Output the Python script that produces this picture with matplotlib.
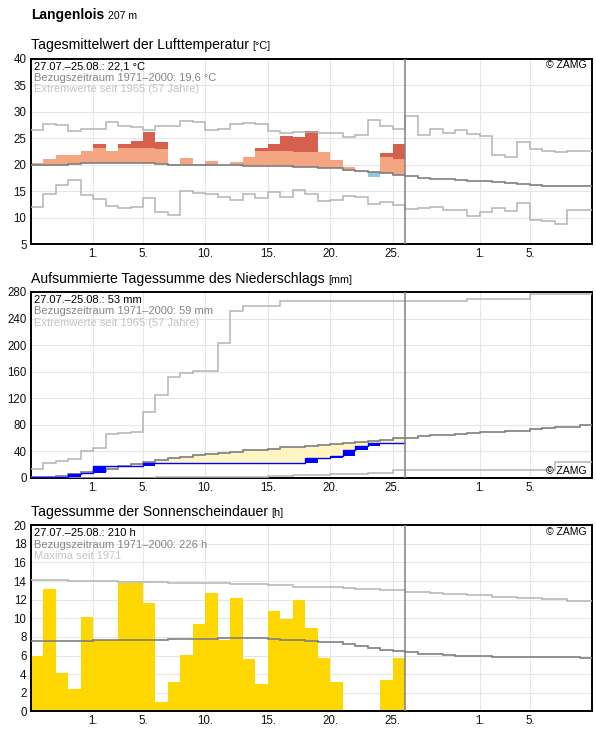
import numpy as np
import matplotlib
matplotlib.use("Agg")
import matplotlib.pyplot as plt

plt.rcParams["font.family"] = ["Liberation Sans", "DejaVu Sans"]

# ------------------------------------------------------------
# data: day 0 = 27.07., 30 observed days, view runs to 09.09.
# ------------------------------------------------------------
tick_pos = [5, 9, 14, 19, 24, 29, 36, 40]
tick_labels = ["1.", "5.", "10.", "15.", "20.", "25.", "1.", "5."]

# air temperature (daily mean, °C)
temp_obs = [20.4, 21.15, 21.8, 21.8, 22.6, 24.0, 22.6, 23.85, 24.4, 26.1,
            24.2, 20.2, 21.3, 20.2, 20.7, 20.0, 20.6, 21.5, 23.1, 23.85,
            25.4, 25.2, 26.4, 22.5, 20.9, 19.6, 18.6, 17.6, 22.2, 24.0]
temp_norm = [19.9, 19.9, 19.9, 20.1, 20.3, 20.3, 20.3, 20.3, 20.3, 20.3,
             20.1, 19.95, 19.95, 19.95, 19.95, 19.95, 19.9, 19.75, 19.75, 19.75,
             19.75, 19.6, 19.6, 19.45, 19.3, 19.1, 18.85, 18.6, 18.5, 18.1,
             17.8, 17.56, 17.4, 17.3, 17.2, 17.0, 16.9, 16.7, 16.56, 16.45,
             16.25, 16.06, 16.0, 15.9, 15.9]
temp_max = [26.5, 27.6, 27.5, 26.4, 26.8, 26.8, 28.0, 27.4, 27.1, 26.6,
            27.25, 27.25, 28.3, 28.0, 26.6, 26.8, 27.6, 27.9, 27.6, 26.4,
            26.0, 26.1, 26.2, 26.0, 26.0, 25.2, 25.55, 28.4, 27.3, 26.8,
            29.2, 25.7, 26.7, 26.0, 26.5, 25.8, 25.4, 21.9, 21.5, 24.3,
            23.0, 22.6, 22.4, 22.6, 22.6]
temp_min = [12.1, 14.5, 16.2, 17.1, 14.3, 13.6, 12.3, 11.9, 12.1, 13.75,
            11.1, 10.6, 15.0, 14.7, 14.5, 13.9, 13.4, 14.5, 13.8, 14.9,
            14.0, 15.2, 14.5, 13.2, 13.4, 14.2, 14.0, 12.6, 12.9, 12.5,
            11.75, 11.9, 12.1, 11.4, 11.56, 10.4, 11.0, 11.9, 11.25, 12.7,
            9.6, 9.3, 8.9, 11.56, 11.56]
WARM_BAND = 2.9   # light orange up to normal + this, dark red above

# precipitation (daily sums, cumulative references in mm)
precip_daily = [1.5, 0.0, 0.5, 4.5, 1.0, 10.5, 0.0, 0.0, 0.5, 4.5,
                0.0, 0.0, 0.0, 0.0, 0.0, 0.0, 0.0, 0.0, 0.0, 0.0,
                0.0, 0.0, 7.5, 0.0, 3.0, 8.0, 6.0, 5.7, 0.0, 0.0]
precip_norm = [1.0, 2.0, 3.5, 6.5, 9.0, 11.0, 14.0, 18.0, 20.6, 23.6,
               27.0, 29.6, 31.0, 34.0, 36.0, 37.6, 38.6, 41.6, 41.6, 43.7,
               46.0, 46.0, 48.0, 50.0, 51.0, 52.0, 54.0, 56.0, 57.7, 59.7,
               59.7, 63.2, 64.7, 64.7, 65.7, 67.2, 68.7, 68.7, 71.2, 71.2,
               73.8, 74.8, 76.8, 76.8, 79.3]
precip_max = [14, 23, 26, 29, 41, 44.7, 65.7, 67.7, 69.2, 98.8,
              125, 151.5, 158.5, 160.6, 160.6, 203.7, 252, 259, 259, 259,
              267, 267, 267, 267, 267, 267, 267, 267, 267, 267,
              267, 267, 267, 267, 267, 270, 270, 270, 270, 270,
              276.5, 276.5, 276.5, 276.5, 276.5]
precip_min = [0, 0, 0, 0, 0, 0, 0, 0, 0, 0,
              1, 1, 1, 1, 1, 1, 2, 2, 2, 3.5,
              3.5, 5, 5, 5, 6, 6, 6, 7, 7, 11.5,
              11.5, 11.5, 11.5, 11.5, 11.5, 11.5, 11.5, 11.5, 11.5, 11.5,
              11.5, 11.5, 24.6, 24.6, 24.6]

# sunshine duration (h)
sun_obs = [5.9, 13.15, 4.1, 2.4, 10.1, 7.7, 7.7, 13.8, 13.8, 11.65,
           1.0, 3.15, 6.06, 9.4, 12.7, 7.7, 12.2, 5.6, 2.9, 10.8,
           9.9, 12.0, 8.96, 5.7, 3.15, 0.0, 0.0, 0.0, 3.37, 5.7]
sun_norm = [7.53, 7.53, 7.53, 7.53, 7.53, 7.63, 7.63, 7.63, 7.63, 7.63,
            7.63, 7.78, 7.78, 7.78, 7.78, 7.92, 7.92, 7.92, 7.92, 7.78,
            7.67, 7.67, 7.6, 7.5, 7.4, 7.24, 7.0, 6.85, 6.63, 6.5,
            6.38, 6.2, 6.13, 6.06, 6.0, 5.95, 5.9, 5.84, 5.84, 5.84,
            5.84, 5.84, 5.84, 5.84, 5.73]
sun_max = [14.1, 14.1, 14.1, 14.0, 14.0, 14.0, 14.0, 13.9, 13.9, 13.9,
           13.9, 13.8, 13.8, 13.8, 13.8, 13.8, 13.7, 13.7, 13.7, 13.55,
           13.55, 13.37, 13.37, 13.37, 13.37, 13.3, 13.1, 13.1, 13.0, 13.0,
           12.87, 12.87, 12.72, 12.58, 12.58, 12.47, 12.47, 12.33, 12.33, 12.19,
           12.19, 12.08, 12.08, 11.9, 11.9]

# ------------------------------------------------------------
# figure layout (pixel based, 596 x 729)
# ------------------------------------------------------------
W, H = 596, 729
fig = plt.figure(figsize=(W / 100, H / 100), dpi=100)


def px_axes(left, top, right, bottom):
    return [left / W, 1 - bottom / H, (right - left) / W, (bottom - top) / H]


ax_t = fig.add_axes(px_axes(30.7, 58.7, 592.3, 244.3))
ax_p = fig.add_axes(px_axes(30.7, 292, 592.3, 478))
ax_s = fig.add_axes(px_axes(30.7, 525.3, 592.3, 711.3))

NORM_C = "#7f7f7f"
EXT_C = "#b4b4b4"
n_obs = len(temp_obs)
days = np.arange(n_obs)
edges_all = np.arange(len(temp_norm) + 1)
edges_obs = np.arange(n_obs + 1)


def style_axis(ax, ymin, ymax, ystep):
    ax.set_xlim(0, 45)
    ax.set_ylim(ymin, ymax)
    ax.set_yticks(np.arange(ymin, ymax + ystep / 2, ystep))
    ax.set_xticks(tick_pos)
    ax.set_xticklabels(tick_labels)
    ax.grid(True, color="#e6e6e6", lw=0.8)
    ax.set_axisbelow(True)
    ax.tick_params(length=0, labelsize=8.3, pad=3, colors="#111111")
    for s in ax.spines.values():
        s.set_linewidth(1.4)
    ax.axvline(n_obs, color="#808080", lw=1.1, zorder=6)


def info_text(ax, lines, top_right_zamg=True):
    colors = ["black", "#858585", "#c4c4c4"]
    offsets = [-8, -19.5, -30.7]
    for s, c, o in zip(lines, colors, offsets):
        ax.annotate(s, xy=(0, 1), xycoords="axes fraction", xytext=(3.5, o),
                    textcoords="offset pixels", va="center", ha="left",
                    fontsize=8, color=c, zorder=7)
    if top_right_zamg:
        ax.annotate("© ZAMG", xy=(1, 1), xycoords="axes fraction", xytext=(-5.5, -6.5),
                    textcoords="offset pixels", va="center", ha="right", fontsize=7.5, zorder=7)
    else:
        ax.annotate("© ZAMG", xy=(1, 0), xycoords="axes fraction", xytext=(-5.5, 6.5),
                    textcoords="offset pixels", va="center", ha="right", fontsize=7.5, zorder=7)


renderer = fig.canvas.get_renderer()


def title_with_unit(x_px, base_px, text, unit, size, unit_size, weight="normal"):
    t = fig.text(x_px / W, 1 - base_px / H, text, fontsize=size, fontweight=weight, va="baseline")
    ext = t.get_window_extent(renderer=renderer)
    fig.text((ext.x1 + 4) / W, 1 - base_px / H, unit, fontsize=unit_size, va="baseline")


title_with_unit(30.7, 19.3, "Langenlois", "207 m", 10.0, 7.6, weight="bold")
title_with_unit(30.7, 49.3, "Tagesmittelwert der Lufttemperatur", "[°C]", 10.1, 7.8)
title_with_unit(30.7, 282.6, "Aufsummierte Tagessumme des Niederschlags", "[mm]", 10.1, 7.8)
title_with_unit(30.7, 516.0, "Tagessumme der Sonnenscheindauer", "[h]", 10.1, 7.8)

# ------------------------------------------------------------
# panel 1: temperature
# ------------------------------------------------------------
style_axis(ax_t, 5, 40, 5)
obs = np.array(temp_obs)
norm = np.array(temp_norm[:n_obs])
tmax = np.array(temp_max[:n_obs])
thr = norm + WARM_BAND

light_top = np.where(obs > norm, np.minimum(obs, thr), norm)
ax_t.bar(days, light_top - norm, bottom=norm, width=1, align="edge", color="#f4a582", lw=0)
dark_h = np.clip(np.minimum(obs, np.maximum(tmax, thr)) - thr, 0, None)
ax_t.bar(days, dark_h, bottom=thr, width=1, align="edge", color="#d6604d", lw=0)
rec_bottom = np.maximum(tmax, thr)
rec_h = np.clip(obs - rec_bottom, 0, None)
ax_t.bar(days, rec_h, bottom=rec_bottom, width=1, align="edge", color="#a3121f", lw=0)
cold_h = np.clip(norm - obs, 0, None)
ax_t.bar(days, cold_h, bottom=obs, width=1, align="edge", color="#92c5de", lw=0)

ax_t.stairs(temp_max, edges_all, color=EXT_C, lw=1.1, baseline=None, zorder=3)
ax_t.stairs(temp_min, edges_all, color=EXT_C, lw=1.1, baseline=None, zorder=3)
ax_t.stairs(temp_norm, edges_all, color=NORM_C, lw=1.2, baseline=None, zorder=4)
info_text(ax_t, ["27.07.–25.08.: 22,1 °C", "Bezugszeitraum 1971–2000: 19,6 °C",
                 "Extremwerte seit 1965 (57 Jahre)"])

# ------------------------------------------------------------
# panel 2: precipitation (cumulative)
# ------------------------------------------------------------
style_axis(ax_p, 0, 280, 40)
daily = np.array(precip_daily)
cum = np.cumsum(daily)
pnorm = np.array(precip_norm[:n_obs])

deficit = np.clip(pnorm - cum, 0, None)
ax_p.bar(days, deficit, bottom=cum, width=1, align="edge", color="#fff5c2", lw=0)
surplus = np.clip(cum - pnorm, 0, None)
ax_p.bar(days, surplus, bottom=pnorm, width=1, align="edge", color="#e3f3dc", lw=0)

ax_p.stairs(precip_max, edges_all, color=EXT_C, lw=1.1, baseline=None, zorder=3)
ax_p.stairs(precip_min, edges_all, color=EXT_C, lw=1.1, baseline=None, zorder=3)
ax_p.stairs(precip_norm, edges_all, color=NORM_C, lw=1.2, baseline=None, zorder=4)
ax_p.bar(days, daily, bottom=cum - daily, width=1, align="edge", color="#0000ff", lw=0, zorder=4)
ax_p.stairs(cum, edges_obs, color="#0000ff", lw=1.0, baseline=None, zorder=5)
info_text(ax_p, ["27.07.–25.08.: 53 mm", "Bezugszeitraum 1971–2000: 59 mm",
                 "Extremwerte seit 1965 (57 Jahre)"], top_right_zamg=False)

# ------------------------------------------------------------
# panel 3: sunshine duration
# ------------------------------------------------------------
style_axis(ax_s, 0, 20, 2)
ax_s.bar(days, sun_obs, width=1, align="edge", color="#ffd700", lw=0)
ax_s.stairs(sun_max, edges_all, color=EXT_C, lw=1.1, baseline=None, zorder=3)
ax_s.stairs(sun_norm, edges_all, color=NORM_C, lw=1.2, baseline=None, zorder=4)
info_text(ax_s, ["27.07.–25.08.: 210 h", "Bezugszeitraum 1971–2000: 226 h",
                 "Maxima seit 1971"])

fig.savefig("out.png", dpi=100)
